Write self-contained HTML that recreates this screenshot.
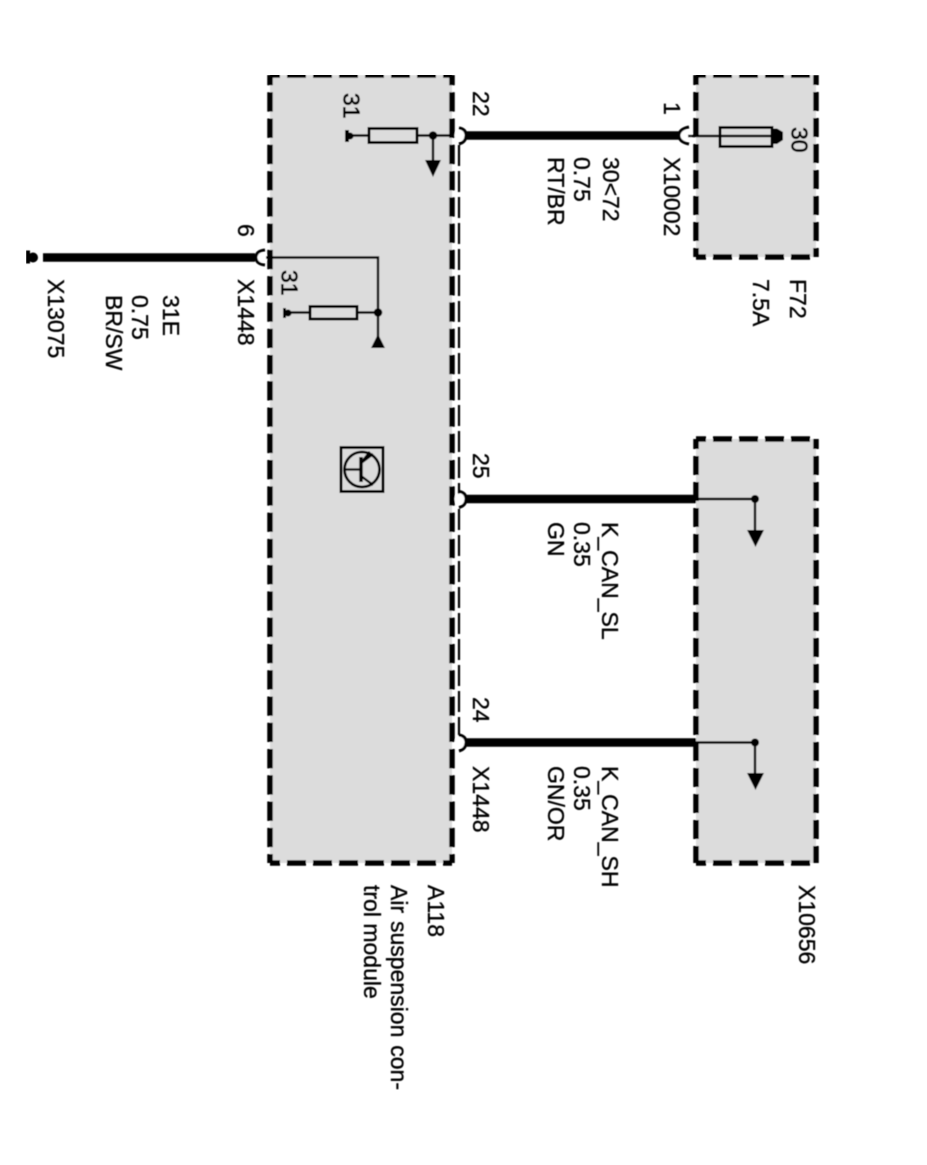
<!DOCTYPE html>
<html>
<head>
<meta charset="utf-8">
<style>
html,body{margin:0;padding:0;background:#fff;width:927px;height:1165px;overflow:hidden}
svg{display:block}
text{font-family:"Liberation Sans",sans-serif;font-size:23px;fill:#000;stroke:#000;stroke-width:.35}
.box{stroke:#000;stroke-width:5.5;fill:none;stroke-dasharray:19 7}
.long{stroke-dasharray:19.3 6.97}
.t{stroke:#000;stroke-width:2.4;fill:none}
.w{stroke:#000;stroke-width:8.6;fill:none}
.a{stroke:#000;stroke-width:3;fill:none}
</style>
</head>
<body>
<svg width="927" height="1165" viewBox="0 0 927 1165" xmlns="http://www.w3.org/2000/svg">
<defs><filter id="b" x="0" y="0" width="100%" height="100%"><feGaussianBlur stdDeviation="0.6"/></filter></defs>
<rect width="927" height="1165" fill="#fff"/>
<g filter="url(#b)">
<!-- fills -->
<rect x="270" y="75" width="182" height="788" fill="#dcdcdc"/>
<rect x="696" y="75" width="120" height="182" fill="#dcdcdc"/>
<rect x="696" y="439" width="120" height="424" fill="#dcdcdc"/>

<!-- A118 box -->
<path class="box" d="M270 75H452" stroke-dashoffset="9"/>
<path class="box" d="M270 863H452" stroke-dashoffset="9"/>
<path class="box long" d="M270 75V863" stroke-dashoffset="9"/>
<path class="box long" d="M452 75V863" stroke-dashoffset="9"/>
<!-- F72 box -->
<path class="box" d="M696 75H816" stroke-dashoffset="9"/>
<path class="box" d="M696 257H816" stroke-dashoffset="9"/>
<path class="box" d="M696 75V257" stroke-dashoffset="9"/>
<path class="box" d="M816 75V257" stroke-dashoffset="9"/>
<!-- X10656 box -->
<path class="box" d="M696 439H816" stroke-dashoffset="9"/>
<path class="box" d="M696 863H816" stroke-dashoffset="9"/>
<path class="box" d="M696 439V863" stroke-dashoffset="9"/>
<path class="box" d="M816 439V863" stroke-dashoffset="9"/>

<!-- thin dashed rail -->
<path d="M459 145V735" stroke="#000" stroke-width="2.200" fill="none" stroke-dasharray="21 5"/>

<!-- connector notches -->
<circle cx="460" cy="135.500" r="5.500" fill="#fff"/>
<circle cx="460" cy="499" r="5.500" fill="#fff"/>
<circle cx="460" cy="742.500" r="5.500" fill="#fff"/>
<circle cx="686" cy="135.500" r="6" fill="#fff"/>
<circle cx="262" cy="257.500" r="5" fill="#fff"/>

<!-- wires -->
<path class="w" d="M465 135.500H680"/>
<path class="w" d="M465 499H696"/>
<path class="w" d="M465 742.500H696"/>
<path class="w" d="M43 257.500H255"/>

<!-- connector arcs -->
<path class="a" d="M459 128Q466 129 466 135.500Q466 142 459 144"/>
<path class="a" d="M459 491.500Q466 492.500 466 499Q466 505.500 459 507.500"/>
<path class="a" d="M459 735Q466 736 466 742.500Q466 749 459 751"/>
<path class="a" d="M689 127Q679 129 679 135.500Q679 142 689 144"/>
<path class="a" d="M265 250Q256 251 256 257.500Q256 264 265 265"/>

<!-- fuse -->
<path class="t" d="M688 136H775"/>
<rect x="720" y="127.500" width="52" height="19" fill="none" stroke="#000" stroke-width="3"/>
<path d="M771 128.500H777L783 132V140L777 144H771Z" fill="#000"/>

<!-- upper resistor in A118 -->
<path class="t" d="M350 135.500H454"/>
<rect x="369" y="128.500" width="48" height="14" fill="#dcdcdc" stroke="#000" stroke-width="3"/>
<rect x="345" y="130" width="4" height="12" fill="#000"/>
<circle cx="350" cy="136" r="3.500" fill="#000"/>
<circle cx="433" cy="135.500" r="4.300" fill="#000"/>
<path class="t" d="M433 135.500V162"/>
<path d="M425 160H441L433 177Z" fill="#000"/>

<!-- lower circuit in A118 -->
<path class="t" d="M266 257.500H378V337"/>
<path class="t" d="M290 312.500H378"/>
<rect x="310" y="306.500" width="47" height="12.500" fill="#dcdcdc" stroke="#000" stroke-width="3"/>
<rect x="283" y="308" width="3" height="10" fill="#000"/>
<circle cx="288" cy="313" r="3.500" fill="#000"/>
<circle cx="378" cy="312.500" r="4.300" fill="#000"/>
<path d="M371 348H385L378 334Z" fill="#000"/>

<!-- left ground -->
<rect x="26" y="250.500" width="4" height="13" fill="#000"/>
<circle cx="33" cy="257.500" r="5" fill="#000"/>

<!-- transistor -->
<rect x="341" y="447.500" width="42" height="44" fill="none" stroke="#000" stroke-width="3"/>
<circle cx="362" cy="469.500" r="17.500" fill="none" stroke="#000" stroke-width="2.800"/>
<path class="t" d="M344 469.500H360"/>
<path d="M361 457V482" stroke="#000" stroke-width="3.500" fill="none"/>
<path class="t" d="M361 463L373 454M361 476L373 485"/>
<path d="M361 461L369 451L373 455Z" fill="#000"/>

<!-- X10656 stubs -->
<path class="t" d="M696 499H755V534"/>
<circle cx="755" cy="499" r="4" fill="#000"/>
<path d="M747 530H764L755.500 547Z" fill="#000"/>
<path class="t" d="M696 742.500H755V775"/>
<circle cx="755" cy="742.500" r="4" fill="#000"/>
<path d="M747 773H764L755.500 790Z" fill="#000"/>

<!-- labels (rotated 90deg cw) -->
<g transform="translate(1 0)">
<text transform="translate(472 91) rotate(90)">22</text>
<text transform="translate(342.300 93) rotate(90)" stroke-width=".6" style="stroke-width:.7px">31</text>
<text transform="translate(663 102) rotate(90)">1</text>
<text transform="translate(790.300 127) rotate(90)" style="stroke-width:.7px">30</text>
<text transform="translate(663 157) rotate(90)">X10002</text>
<text transform="translate(602 157) rotate(90)">30&lt;72</text>
<text transform="translate(573 157) rotate(90)">0.75</text>
<text transform="translate(547 157) rotate(90)">RT/BR</text>
<text transform="translate(789 279) rotate(90)">F72</text>
<text transform="translate(752 279) rotate(90)">7.5A</text>
<text transform="translate(237 224) rotate(90)">6</text>
<text transform="translate(237 279) rotate(90)">X1448</text>
<text transform="translate(280.300 270) rotate(90)" style="stroke-width:.7px">31</text>
<text transform="translate(47 279) rotate(90)">X13075</text>
<text transform="translate(162 295) rotate(90)">31E</text>
<text transform="translate(131 295) rotate(90)">0.75</text>
<text transform="translate(105 295) rotate(90)">BR/SW</text>
<text transform="translate(472 453) rotate(90)">25</text>
<text transform="translate(601 522) rotate(90)">K_CAN_SL</text>
<text transform="translate(573 522) rotate(90)">0.35</text>
<text transform="translate(547 522) rotate(90)">GN</text>
<text transform="translate(472 697) rotate(90)">24</text>
<text transform="translate(472 766) rotate(90)">X1448</text>
<text transform="translate(601 766) rotate(90)">K_CAN_SH</text>
<text transform="translate(573 766) rotate(90)">0.35</text>
<text transform="translate(547 766) rotate(90)">GN/OR</text>
<text transform="translate(798 885) rotate(90)">X10656</text>
<text transform="translate(427 885) rotate(90)">A118</text>
<text transform="translate(390 885) rotate(90)" word-spacing="1.500">Air suspension con-</text>
<text transform="translate(363 885) rotate(90)">trol module</text>
</g>
</g>
</svg>
</body>
</html>
